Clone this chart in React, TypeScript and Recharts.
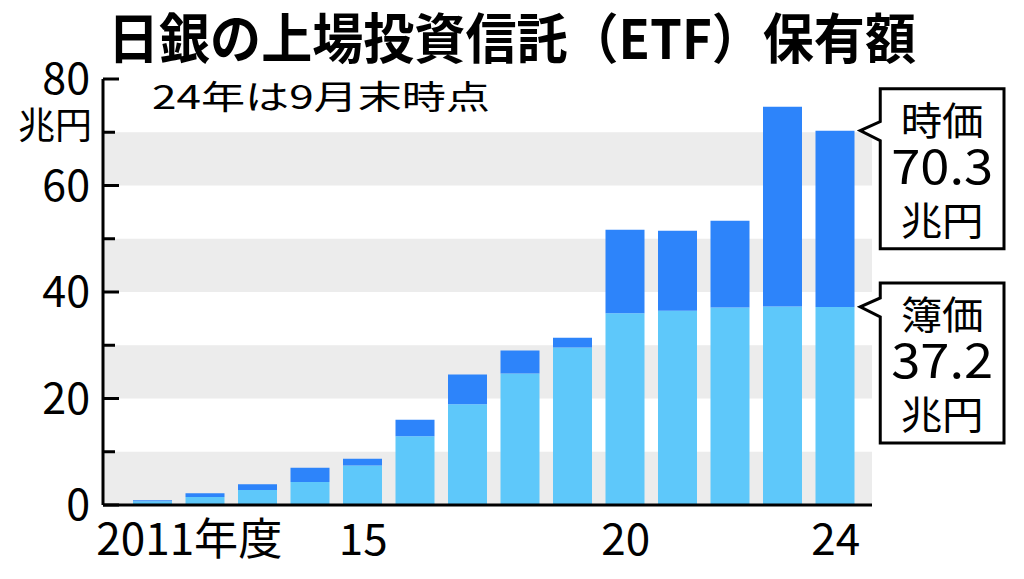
import React from 'react';
import { BarChart, Bar, XAxis, YAxis, ReferenceArea, ReferenceDot } from 'recharts';

// fiscal years (2024 = end of September)
const years = ['2011', '2012', '2013', '2014', '2015', '2016', '2017', '2018', '2019', '2020', '2021', '2022', '2023', '2024'];
// 簿価 (book value), 兆円
const bookValue = [0.7, 1.5, 2.8, 4.3, 7.4, 12.9, 18.9, 24.7, 29.6, 36.0, 36.5, 37.1, 37.3, 37.2];
// 時価 (market value), 兆円
const marketValue = [0.9, 2.2, 3.9, 7.0, 8.7, 16.0, 24.5, 29.0, 31.4, 51.7, 51.5, 53.4, 74.8, 70.3];

const yTicks = [0, 10, 20, 30, 40, 50, 60, 70, 80];
const yLabels = [0, 20, 40, 60, 80];
const xLabels: Record<string, string> = { '2011': '2011年度', '2015': '15', '2020': '20', '2024': '24' };
const shadedBands = [[0, 10], [20, 30], [40, 50], [60, 70]];

const FONT = '"Noto Sans CJK JP", "Noto Sans", sans-serif';
const LIGHT = '#5ec8fa';
const DARK = '#2d84fa';
const BAND = '#ececec';
const PLOT_LEFT = 103;
const PLOT_RIGHT = 872;

const data = years.map((year, i) => ({
  year,
  book: bookValue[i],
  gain: +(marketValue[i] - bookValue[i]).toFixed(1),
}));

function YTick(props: any) {
  const { y, payload } = props;
  const v = payload.value;
  const major = yLabels.includes(v);
  return (
    <g>
      <line x1={PLOT_LEFT} x2={PLOT_LEFT + (major ? 16 : 12)} y1={y} y2={y} stroke="#000" strokeWidth={3} />
      {major && (
        <text x={90} y={y + 15} textAnchor="end" fontSize={43} fontFamily={FONT} fill="#000">
          {v}
        </text>
      )}
    </g>
  );
}

function XTick(props: any) {
  const { x, payload } = props;
  const label = xLabels[payload.value];
  if (!label) return null;
  if (label.length > 2) {
    return (
      <text x={x - 56} y={555} textAnchor="start" fontSize={44} fontFamily={FONT} fill="#000"
        textLength={186} lengthAdjust="spacingAndGlyphs">
        {label}
      </text>
    );
  }
  return (
    <text x={x + 1} y={555} textAnchor="middle" fontSize={44} fontFamily={FONT} fill="#000">
      {label}
    </text>
  );
}

// band spans the whole plot width, not only the padded category range
function Band(props: any) {
  return <rect x={PLOT_LEFT} y={props.y} width={PLOT_RIGHT - PLOT_LEFT} height={props.height} fill={BAND} />;
}

function Callout(props: any) {
  const { cx, cy, title, value, top } = props;
  const tip = cx + 25.5;
  const left = tip + 20;
  const right = 1004;
  const y0 = cy + top;
  const y1 = y0 + 160;
  const mid = (left + right) / 2;
  const path = `M${left},${cy - 9} L${left},${y0} L${right},${y0} L${right},${y1} L${left},${y1} L${left},${cy + 10} L${tip},${cy} Z`;
  return (
    <g>
      <path d={path} fill="#fff" stroke="#000" strokeWidth={3} strokeLinejoin="miter" />
      <text x={mid} y={y0 + 46} textAnchor="middle" fontSize={39} fontFamily={FONT} fill="#000"
        textLength={83} lengthAdjust="spacingAndGlyphs">{title}</text>
      <text x={mid} y={y0 + 95} textAnchor="middle" fontSize={48} fontFamily={FONT} fill="#000"
        textLength={102} lengthAdjust="spacingAndGlyphs">{value}</text>
      <text x={mid} y={y0 + 146} textAnchor="middle" fontSize={39} fontFamily={FONT} fill="#000"
        textLength={83} lengthAdjust="spacingAndGlyphs">兆円</text>
    </g>
  );
}

export default function App() {
  const last = years.length - 1;
  return (
    <div style={{ position: 'absolute', left: 0, top: 0, width: 1024, height: 579, background: '#fff' }}>
      <BarChart
        width={1024}
        height={579}
        data={data}
        margin={{ top: 79, right: 1024 - PLOT_RIGHT, bottom: 4, left: 0 }}
        barCategoryGap={0}
      >
        {shadedBands.map(([a, b]) => (
          <ReferenceArea key={a} y1={a} y2={b} shape={<Band />} />
        ))}
        <XAxis
          dataKey="year"
          interval={0}
          height={70}
          padding={{ left: 23, right: 11 }}
          axisLine={{ stroke: '#000', strokeWidth: 3 }}
          tickLine={false}
          tick={<XTick />}
        />
        <YAxis
          width={PLOT_LEFT}
          domain={[0, 80]}
          ticks={yTicks}
          interval={0}
          axisLine={{ stroke: '#000', strokeWidth: 3 }}
          tickLine={false}
          tick={<YTick />}
        />
        <Bar dataKey="book" stackId="a" fill={LIGHT} barSize={39} isAnimationActive={false} />
        <Bar dataKey="gain" stackId="a" fill={DARK} barSize={39} isAnimationActive={false} />
        <ReferenceDot x={years[last]} y={marketValue[last]} ifOverflow="visible"
          shape={(p: any) => <Callout {...p} title="時価" value={marketValue[last].toFixed(1)} top={-42} />} />
        <ReferenceDot x={years[last]} y={bookValue[last]} ifOverflow="visible"
          shape={(p: any) => <Callout {...p} title="簿価" value={bookValue[last].toFixed(1)} top={-24} />} />
      </BarChart>
      <svg width={1024} height={579} style={{ position: 'absolute', left: 0, top: 0, pointerEvents: 'none' }}>
        <text x={108} y={59} fontSize={54} fontWeight="bold" fontFamily={FONT} fill="#000"
          textLength={808} lengthAdjust="spacingAndGlyphs">日銀の上場投資信託（ETF）保有額</text>
        <text x={152} y={109} fontSize={33} fontFamily={FONT} fill="#000"
          textLength={338} lengthAdjust="spacingAndGlyphs">24年は9月末時点</text>
        <text x={18} y={139} fontSize={37} fontFamily={FONT} fill="#000"
          textLength={74} lengthAdjust="spacingAndGlyphs">兆円</text>
      </svg>
    </div>
  );
}
